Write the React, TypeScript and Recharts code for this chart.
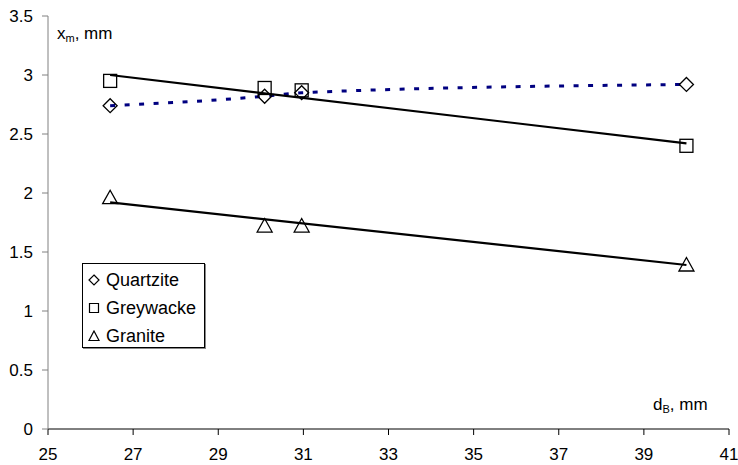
import React from "react";
import { ComposedChart, Line, Scatter, XAxis, YAxis } from "recharts";

const xTicks = [25, 27, 29, 31, 33, 35, 37, 39, 41];
const yTicks = [0, 0.5, 1, 1.5, 2, 2.5, 3, 3.5];

const quartzite = [
  { x: 26.46, y: 2.74 },
  { x: 30.09, y: 2.82 },
  { x: 30.96, y: 2.85 },
  { x: 40.0, y: 2.92 },
];
const greywacke = [
  { x: 26.46, y: 2.95 },
  { x: 30.09, y: 2.89 },
  { x: 30.96, y: 2.87 },
  { x: 40.0, y: 2.4 },
];
const granite = [
  { x: 26.46, y: 1.96 },
  { x: 30.09, y: 1.72 },
  { x: 30.96, y: 1.72 },
  { x: 40.0, y: 1.39 },
];
// linear trend lines as drawn on the picture
const greywackeTrend = [
  { x: 26.46, y: 3.0 },
  { x: 40.0, y: 2.42 },
];
const graniteTrend = [
  { x: 26.46, y: 1.92 },
  { x: 40.0, y: 1.39 },
];

const FONT = "'Liberation Sans', Arial, sans-serif";

const Diamond = (p: any) => {
  const { cx, cy } = p;
  const r = 7;
  return (
    <path
      d={`M${cx},${cy - r}L${cx + r},${cy}L${cx},${cy + r}L${cx - r},${cy}Z`}
      fill="none"
      stroke="#000"
      strokeWidth={1.3}
    />
  );
};

const Square = (p: any) => {
  const { cx, cy } = p;
  const h = 6.5;
  return <rect x={cx - h} y={cy - h} width={2 * h} height={2 * h} fill="none" stroke="#000" strokeWidth={1.3} />;
};

const Triangle = (p: any) => {
  const { cx, cy } = p;
  return (
    <path
      d={`M${cx},${cy - 7.5}L${cx + 7.5},${cy + 6}L${cx - 7.5},${cy + 6}Z`}
      fill="none"
      stroke="#000"
      strokeWidth={1.3}
    />
  );
};

const legendItems = [
  { name: "Quartzite", icon: "M6,1L11,6L6,11L1,6Z" },
  { name: "Greywacke", icon: "M1.5,1.5H10.5V10.5H1.5Z" },
  { name: "Granite", icon: "M6,1L11,10.5H1Z" },
];

export default function App() {
  return (
    <div style={{ position: "absolute", left: 0, top: 0, width: 738, height: 465, fontFamily: FONT, background: "#fff" }}>
      <ComposedChart width={738} height={465} margin={{ top: 16, right: 9, bottom: 0, left: 0 }}>
        <XAxis
          type="number"
          dataKey="x"
          domain={[25, 41]}
          ticks={xTicks}
          allowDataOverflow
          height={36}
          stroke="#000"
          tickSize={6}
          tickMargin={13}
          tick={{ fill: "#000", fontSize: 17, fontFamily: FONT }}
        />
        <YAxis
          type="number"
          dataKey="y"
          domain={[0, 3.5]}
          ticks={yTicks}
          width={48}
          stroke="#808080"
          tickSize={6}
          tickMargin={9}
          tick={{ fill: "#000", fontSize: 17, fontFamily: FONT }}
        />
        <Line
          data={quartzite}
          dataKey="y"
          type="monotoneX"
          stroke="#000080"
          strokeWidth={3}
          strokeDasharray="5 9.5"
          dot={false}
          isAnimationActive={false}
        />
        <Line data={greywackeTrend} dataKey="y" type="linear" stroke="#000" strokeWidth={2.2} dot={false} isAnimationActive={false} />
        <Line data={graniteTrend} dataKey="y" type="linear" stroke="#000" strokeWidth={2.2} dot={false} isAnimationActive={false} />
        <Scatter data={quartzite} dataKey="y" shape={Diamond} isAnimationActive={false} />
        <Scatter data={greywacke} dataKey="y" shape={Square} isAnimationActive={false} />
        <Scatter data={granite} dataKey="y" shape={Triangle} isAnimationActive={false} />
      </ComposedChart>

      <div style={{ position: "absolute", left: 57, top: 24, fontSize: 17, lineHeight: "20px", whiteSpace: "nowrap" }}>
        x<sub style={{ fontSize: 11, verticalAlign: "-3px" }}>m</sub>, mm
      </div>
      <div style={{ position: "absolute", left: 653, top: 395, fontSize: 17, lineHeight: "20px", whiteSpace: "nowrap" }}>
        d<sub style={{ fontSize: 11, verticalAlign: "-3px" }}>B</sub>, mm
      </div>

      <div
        style={{
          position: "absolute",
          left: 82,
          top: 263,
          width: 121,
          height: 83,
          border: "1px solid #000",
          boxShadow: "1px 1px 0 #888",
          background: "#fff",
          boxSizing: "content-box",
        }}
      >
        {legendItems.map((it, i) => (
          <div
            key={it.name}
            style={{ position: "absolute", left: 5, top: 4 + i * 28, height: 24, display: "flex", alignItems: "center", fontSize: 18, whiteSpace: "nowrap" }}
          >
            <svg width={12} height={12} style={{ marginRight: 6 }}>
              <path d={it.icon} fill="none" stroke="#000" strokeWidth={1.2} />
            </svg>
            {it.name}
          </div>
        ))}
      </div>
    </div>
  );
}
